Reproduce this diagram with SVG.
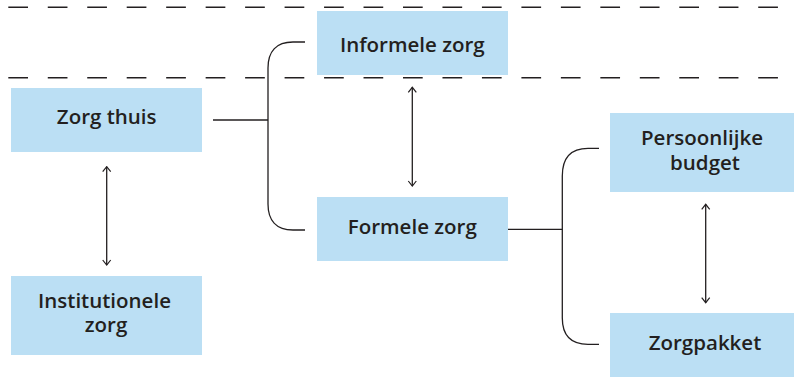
<svg xmlns="http://www.w3.org/2000/svg" width="794" height="386" viewBox="0 0 794 386">
<defs>
<style>
.box{fill:#bbdff4}
.lbl{font-family:"Open Sans","Liberation Sans",sans-serif;font-weight:600;font-size:20.5px;fill:#231f20;text-anchor:middle}
.ln{fill:none;stroke:#231f20;stroke-width:1.3}
.dash{fill:none;stroke:#231f20;stroke-width:1.5;stroke-dasharray:19.7 19.77}
.arr{fill:none;stroke:#231f20;stroke-width:1.3;marker-start:url(#ah);marker-end:url(#ah)}
</style>
<marker id="ah" viewBox="-6 -5 7 10" refX="0" refY="0" markerWidth="7" markerHeight="10" markerUnits="userSpaceOnUse" orient="auto-start-reverse">
<path d="M-5,-4 L0,0 L-5,4" fill="none" stroke="#231f20" stroke-width="1.2"/>
</marker>
</defs>
<g id="bands">
<line class="dash" x1="8.3" y1="7.3" x2="778" y2="7.3"/>
<line class="dash" x1="8.3" y1="77.7" x2="778" y2="77.7"/>
</g>
<g id="connectors">
<path class="ln" d="M213,120 H268"/>
<path class="ln" d="M305,42 H293 C276,42 268,52 268,68 V204 C268,220 276,230 293,230 H305"/>
<path class="ln" d="M508,229.3 H562.3"/>
<path class="ln" d="M599,148.3 H588 C571,148.3 562.3,158 562.3,176 V318 C562.3,336 571,344.3 588,344.3 H599"/>
<line class="arr" x1="106.7" y1="166.7" x2="106.7" y2="265"/>
<line class="arr" x1="412.3" y1="87.3" x2="412.3" y2="186"/>
<line class="arr" x1="705.7" y1="204.3" x2="705.7" y2="302.7"/>
</g>
<g id="zorg-thuis">
<rect class="box" x="11" y="88" width="191" height="64"/>
<text class="lbl" x="106.7" y="124">Zorg thuis</text>
</g>
<g id="institutionele-zorg">
<rect class="box" x="11" y="276" width="191" height="79"/>
<text class="lbl" x="104.5" y="307.5">Institutionele</text>
<text class="lbl" x="106" y="332">zorg</text>
</g>
<g id="informele-zorg">
<rect class="box" x="317" y="11" width="191" height="64"/>
<text class="lbl" x="412.3" y="52.3">Informele zorg</text>
</g>
<g id="formele-zorg">
<rect class="box" x="317" y="197" width="191" height="64"/>
<text class="lbl" x="412.3" y="234">Formele zorg</text>
</g>
<g id="persoonlijke-budget">
<rect class="box" x="610" y="113" width="184" height="79"/>
<text class="lbl" x="702" y="145">Persoonlijke</text>
<text class="lbl" x="705" y="169.5">budget</text>
</g>
<g id="zorgpakket">
<rect class="box" x="610" y="313" width="184" height="64"/>
<text class="lbl" x="705" y="350">Zorgpakket</text>
</g>
</svg>
